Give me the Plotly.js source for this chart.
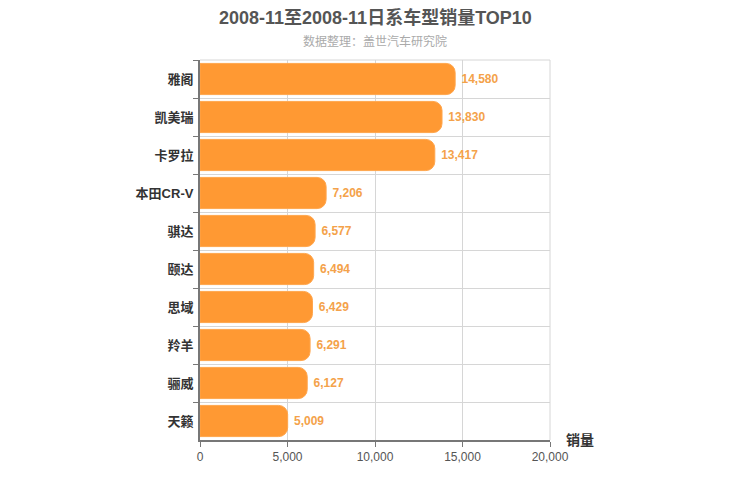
<!DOCTYPE html>
<html><head><meta charset="utf-8">
<script src="https://cdn.plot.ly/plotly-3.0.1.min.js"></script>
<style>body{margin:0;padding:0;background:#fff}#c{width:750px;height:500px}</style>
</head><body><div id="c"></div>
<script>
const categories = ["雅阁","凯美瑞","卡罗拉","本田CR-V","骐达","颐达","思域","羚羊","骊威","天籁"];
const sales = [14580,13830,13417,7206,6577,6494,6429,6291,6127,5009];
const xTicks = [0,5000,10000,15000,20000];
const xTickLabels = ["0","5,000","10,000","15,000","20,000"];
const titleText = "2008-11至2008-11日系车型销量TOP10";
const subtitleText = "数据整理：盖世汽车研究院";
const axisTitle = "销量";

const fontFam = "'Liberation Sans', Arial, 'Noto Sans CJK SC', sans-serif";
const trace = {
  type: 'bar', orientation: 'h',
  x: sales, y: categories,
  width: 0.82,
  marker: {color: '#ff9933', cornerradius: 9, line: {width: 1, color: '#ffa64d'}},
  text: sales.map(v => '\u00a0' + v.toLocaleString('en-US')),
  textposition: 'outside',
  cliponaxis: false,
  textfont: {color: '#f4a24a', size: 12, family: fontFam, weight: 'bold'},
  hoverinfo: 'none'
};
const layout = {
  width: 750, height: 500,
  margin: {l: 200, r: 200, t: 60, b: 60},
  paper_bgcolor: '#fff', plot_bgcolor: '#fff',
  showlegend: false,
  font: {family: fontFam},
  xaxis: {
    range: [0, 20000], tickvals: xTicks, ticktext: xTickLabels,
    showgrid: true, gridcolor: '#d6d6d6', gridwidth: 1,
    showline: true, linecolor: '#777', linewidth: 2,
    ticks: 'outside', ticklen: 5, tickcolor: '#777',
    tickfont: {size: 12, color: '#555', family: fontFam},
    zeroline: false, fixedrange: true
  },
  yaxis: {
    autorange: 'reversed', type: 'category',
    tickson: 'boundaries',
    showgrid: true, gridcolor: '#d6d6d6', gridwidth: 1,
    showline: true, linecolor: '#777', linewidth: 2,
    ticks: 'outside', ticklen: 5, tickcolor: '#777',
    tickfont: {size: 13, color: '#333', family: fontFam, weight: 'bold'},
    ticklabelstandoff: 2,
    zeroline: false, fixedrange: true
  },
  shapes: [
    {type: 'line', xref: 'paper', yref: 'paper', x0: 0, x1: 1, y0: 1, y1: 1,
     line: {color: '#d6d6d6', width: 1}, layer: 'below'},
    {type: 'line', xref: 'paper', yref: 'paper', x0: 1, x1: 1, y0: 0, y1: 1,
     line: {color: '#d6d6d6', width: 1}, layer: 'below'}
  ],
  annotations: [
    {text: '<b>' + titleText + '</b>', xref: 'paper', yref: 'paper', x: 0.5, y: 1,
     xanchor: 'center', yanchor: 'middle', yshift: 43, showarrow: false,
     font: {size: 18, color: '#555', family: fontFam}},
    {text: subtitleText, xref: 'paper', yref: 'paper', x: 0.5, y: 1,
     xanchor: 'center', yanchor: 'middle', yshift: 19, showarrow: false,
     font: {size: 12, color: '#aaa', family: fontFam}},
    {text: '<b>' + axisTitle + '</b>', xref: 'paper', yref: 'paper', x: 1, y: 0,
     xanchor: 'left', yanchor: 'middle', xshift: 14, yshift: 0, showarrow: false,
     font: {size: 14, color: '#333', family: fontFam}}
  ]
};
Plotly.newPlot('c', [trace], layout, {displayModeBar: false, staticPlot: true});
</script></body></html>
